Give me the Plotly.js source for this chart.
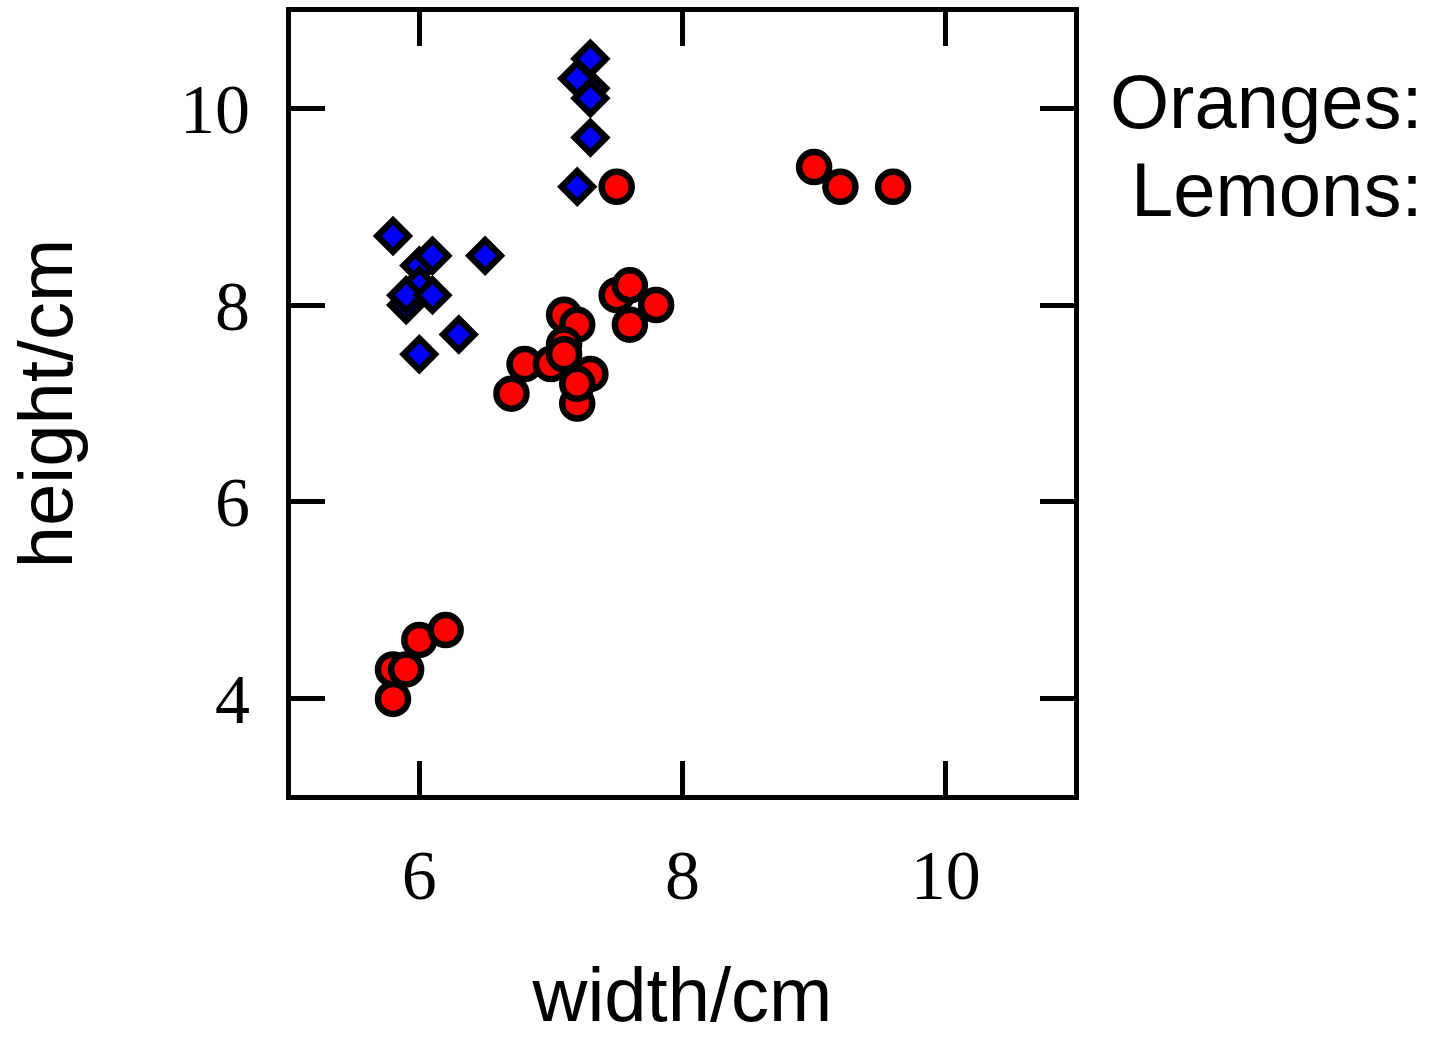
<!DOCTYPE html>
<html>
<head>
<meta charset="utf-8">
<script src="https://cdn.plot.ly/plotly-3.0.1.min.js"></script>
<style>html,body{margin:0;padding:0;background:#fff;}#chart{width:1450px;height:1045px;}</style>
</head>
<body>
<div id="chart"></div>
<script>
// Oranges (red circles)
var orangesWidth  = [5.8, 5.9, 5.8, 6.0, 6.2, 6.7, 6.8, 7.0, 7.1, 7.2, 7.1, 7.1, 7.3, 7.2, 7.2, 7.5, 7.6, 7.8, 7.6, 7.5, 9.0, 9.2, 9.6];
var orangesHeight = [4.3, 4.3, 4.0, 4.6, 4.7, 7.1, 7.4, 7.4, 7.9, 7.8, 7.6, 7.5, 7.3, 7.0, 7.2, 8.1, 8.2, 8.0, 7.8, 9.2, 9.4, 9.2, 9.2];
// Lemons (blue diamonds)
var lemonsWidth  = [7.3, 7.2, 7.3, 7.3, 7.3, 7.2, 5.8, 6.0, 6.1, 6.5, 6.0, 5.9, 5.9, 6.1, 6.3, 6.0];
var lemonsHeight = [10.2, 10.3, 10.5, 10.1, 9.7, 9.2, 8.7, 8.4, 8.5, 8.5, 8.2, 8.0, 8.1, 8.1, 7.7, 7.5];
var seriesNames = ["Oranges", "Lemons"];
var xTicks = [6, 8, 10];
var yTicks = [4, 6, 8, 10];
var xLabel = "width/cm";
var yLabel = "height/cm";

var traces = [
  {x: orangesWidth, y: orangesHeight, name: seriesNames[0], type: "scatter", mode: "markers",
   marker: {symbol: "circle", size: 30, color: "#ff0000", line: {color: "#000000", width: 6.5}}},
  {x: lemonsWidth, y: lemonsHeight, name: seriesNames[1], type: "scatter", mode: "markers",
   marker: {symbol: "diamond", size: 24, color: "#0000ff", line: {color: "#000000", width: 6.5}}}
];

var axisCommon = {
  showline: true, linecolor: "#000", linewidth: 5, mirror: "ticks",
  ticks: "inside", ticklen: 34, tickwidth: 5, tickcolor: "#000",
  showgrid: false, zeroline: false, fixedrange: true,
  tickfont: {family: "Liberation Serif, serif", size: 70, color: "#000"}
};

var layout = {
  width: 1450, height: 1045,
  margin: {l: 291, r: 376, t: 12, b: 250},
  paper_bgcolor: "#fff", plot_bgcolor: "#fff",
  showlegend: false,
  xaxis: Object.assign({}, axisCommon, {
    range: [5.025, 10.975], tickvals: xTicks, ticktext: xTicks.map(String), ticklabelstandoff: 15,
    title: {text: xLabel, font: {family: "Liberation Sans, sans-serif", size: 76, color: "#000"}, standoff: 56}
  }),
  yaxis: Object.assign({}, axisCommon, {
    range: [3.025, 10.975], tickvals: yTicks, ticktext: yTicks.map(String), ticklabelstandoff: 22,
    title: {text: yLabel, font: {family: "Liberation Sans, sans-serif", size: 76, color: "#000"}, standoff: 84}
  }),
  annotations: [
    {xref: "paper", yref: "paper", x: 1.448, y: (795 - 101) / 783, xanchor: "right", yanchor: "middle",
     text: seriesNames[0] + ":", showarrow: false, font: {family: "Liberation Sans, sans-serif", size: 76, color: "#000"}},
    {xref: "paper", yref: "paper", x: 1.448, y: (795 - 189) / 783, xanchor: "right", yanchor: "middle",
     text: seriesNames[1] + ":", showarrow: false, font: {family: "Liberation Sans, sans-serif", size: 76, color: "#000"}}
  ]
};

Plotly.newPlot("chart", traces, layout, {displayModeBar: false, staticPlot: true});
</script>
</body>
</html>
